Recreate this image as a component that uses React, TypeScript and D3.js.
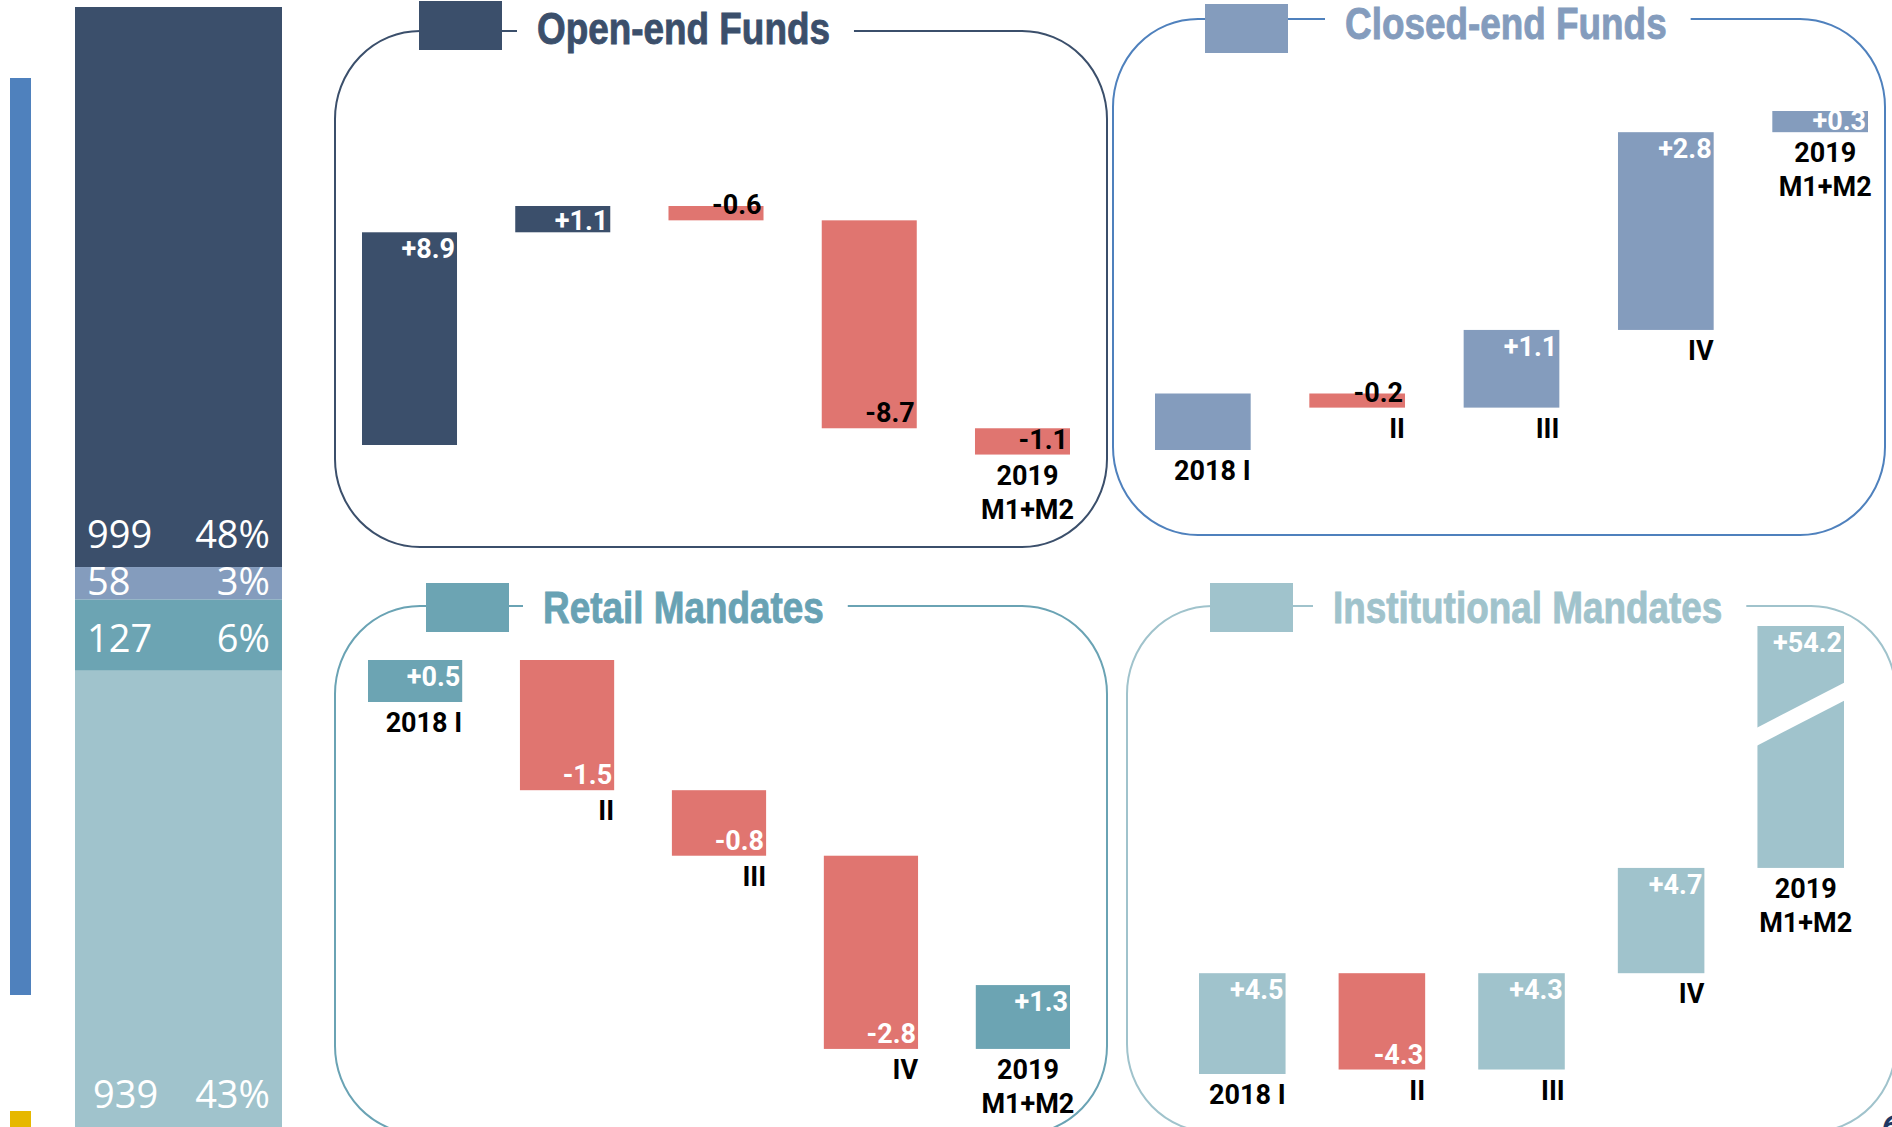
import React, { useEffect, useRef } from 'react';
import * as d3 from 'd3';

const W = 1892;
const H = 1127;

// left stacked total bar (top to bottom)
const stackValues = [999, 58, 127, 939];
const stackShares = ['48%', '3%', '6%', '43%'];

const categories = ['2018 I', 'II', 'III', 'IV', '2019\nM1+M2'];
const openCats = ['', '', '', '', '2019\nM1+M2'];

const openValues = [8.9, 1.1, -0.6, -8.7, -1.1];
const openLabels = ['+8.9', '+1.1', '-0.6', '-8.7', '-1.1'];

const closedValues = [0.8, -0.2, 1.1, 2.8, 0.3];
const closedLabels = ['', '-0.2', '+1.1', '+2.8', '+0.3'];

// retail bars are not drawn to scale in the original, heights read off the bars
const retailValues = [0.5, -1.55, -0.78, -2.3, 0.76];
const retailLabels = ['+0.5', '-1.5', '-0.8', '-2.8', '+1.3'];

const instValues = [4.5, -4.3, 4.3, 4.7, 54.2];
const instLabels = ['+4.5', '-4.3', '+4.3', '+4.7', '+54.2'];

const NAVY = '#3B4F6B';
const SLATE = '#849CBD';
const TEAL = '#6CA4B3';
const LIGHT = '#A0C3CC';
const RED = '#E07570';

// no narrow font installed: squeeze Liberation Sans Bold horizontally
const TITLE_FONT = "'Liberation Sans', Arial, sans-serif";
const TITLE_SQUEEZE = 0.82;
const LABEL_FONT = 'Roboto, sans-serif';

const panels = [
  {
    title: 'Open-end Funds', color: NAVY, titleColor: NAVY, border: NAVY,
    values: openValues, labels: openLabels, cats: openCats, negLabel: '#000',
    box: [335, 31, 1107, 547], square: [419, 1], titleX: 537, titleY: 44,
    xRange: [362, 1070], yDomain: [0, 10], yRange: [445, 206], clamp: false,
  },
  {
    title: 'Closed-end Funds', color: SLATE, titleColor: SLATE, border: '#4F81BD',
    values: closedValues, labels: closedLabels, cats: categories, negLabel: '#000',
    box: [1113, 19, 1885, 535], square: [1205, 4], titleX: 1345, titleY: 39,
    xRange: [1155, 1868], yDomain: [0, 4.8], yRange: [450, 111], clamp: false,
  },
  {
    title: 'Retail Mandates', color: TEAL, titleColor: '#68A2B4', border: '#6AA3B4',
    values: retailValues, labels: retailLabels, cats: categories, negLabel: '#fff',
    box: [335, 606, 1107, 1134], square: [426, 583], titleX: 543, titleY: 623,
    xRange: [368, 1070], yDomain: [0, 0.5], yRange: [702, 660], clamp: false,
  },
  {
    title: 'Institutional Mandates', color: LIGHT, titleColor: LIGHT, border: LIGHT,
    values: instValues, labels: instLabels, cats: categories, negLabel: '#fff',
    box: [1127, 606, 1896, 1132], square: [1210, 583], titleX: 1333, titleY: 623,
    xRange: [1199, 1844], yDomain: [0, 20], yRange: [1074, 626], clamp: true,
  },
];

export default function App() {
  const ref = useRef<SVGSVGElement>(null);

  useEffect(() => {
    if (!ref.current) return;
    const svg = d3.select(ref.current);
    svg.selectAll('*').remove();

    // side markers
    svg.append('rect').attr('x', 10).attr('y', 78).attr('width', 21).attr('height', 917).attr('fill', '#4F81BD');
    svg.append('rect').attr('x', 10).attr('y', 1111).attr('width', 21).attr('height', 30).attr('fill', '#E6B800');

    // stacked total bar
    const total = d3.sum(stackValues);
    const ys = d3.scaleLinear().domain([0, total]).range([7, 7 + total * 0.5606]);
    const stackColors = [NAVY, SLATE, TEAL, LIGHT];
    let acc = 0;
    stackValues.forEach((v, i) => {
      const top = ys(acc);
      const bottom = ys(acc + v);
      acc += v;
      svg.append('rect')
        .attr('x', 75).attr('y', top).attr('width', 207).attr('height', bottom - top)
        .attr('fill', stackColors[i]);
      const visBottom = Math.min(bottom, H);
      const base = Math.max(visBottom - 19, (top + bottom) / 2 + 12);
      const g = svg.append('g')
        .attr('font-family', "'Open Sans', sans-serif").attr('font-size', 38).attr('fill', '#fff');
      g.append('text').attr('x', i === 3 ? 93 : 87).attr('y', base).text(String(v));
      g.append('text').attr('x', 270).attr('y', base).attr('text-anchor', 'end').text(stackShares[i]);
    });

    panels.forEach(p => {
      const [x0, y0, x1, y1] = p.box;
      const g = svg.append('g');

      g.append('rect')
        .attr('x', x0).attr('y', y0).attr('width', x1 - x0).attr('height', y1 - y0)
        .attr('rx', 85).attr('ry', 88)
        .attr('fill', 'none').attr('stroke', p.border).attr('stroke-width', 2);

      const gap = g.append('rect').attr('fill', '#fff');
      const title = g.append('text')
        .attr('transform', `translate(${p.titleX},${p.titleY}) scale(${TITLE_SQUEEZE},1)`)
        .attr('font-family', TITLE_FONT).attr('font-weight', 700).attr('font-size', 45)
        .attr('fill', p.titleColor)
        .attr('stroke', p.titleColor).attr('stroke-width', 0.9)
        .text(p.title);
      const tw = (title.node() as SVGTextElement).getComputedTextLength() * TITLE_SQUEEZE;
      gap.attr('x', p.titleX - 20).attr('y', y0 - 5).attr('width', tw + 44).attr('height', 10);

      g.append('rect')
        .attr('x', p.square[0]).attr('y', p.square[1]).attr('width', 83).attr('height', 49)
        .attr('fill', p.color);

      const x = d3.scaleBand<number>()
        .domain(d3.range(p.values.length))
        .range(p.xRange as [number, number])
        .paddingInner(0.38).paddingOuter(0);
      const y = d3.scaleLinear().domain(p.yDomain).range(p.yRange).clamp(p.clamp);

      let run = 0;
      p.values.forEach((v, i) => {
        const start = run;
        const end = run + v;
        run = end;
        const yTop = y(Math.max(start, end));
        const yBot = y(Math.min(start, end));
        const bx = x(i)!;
        const bw = x.bandwidth();

        g.append('rect')
          .attr('x', bx).attr('y', yTop).attr('width', bw).attr('height', yBot - yTop)
          .attr('fill', v >= 0 ? p.color : RED);

        // axis break for bars running past the scale
        if (Math.max(start, end) > p.yDomain[1]) {
          const mid = yTop + (yBot - yTop) * 0.364;
          const rise = bw * 0.27;
          g.append('polygon')
            .attr('points', [
              [bx - 2, mid + rise - 9], [bx + bw + 2, mid - rise - 9],
              [bx + bw + 2, mid - rise + 9], [bx - 2, mid + rise + 9],
            ].map(d => d.join(',')).join(' '))
            .attr('fill', '#fff');
        }

        if (p.labels[i]) {
          g.append('text')
            .attr('x', bx + bw - 2)
            .attr('y', v >= 0 ? Math.min(yTop + 26, yBot - 2) : yBot - 6)
            .attr('text-anchor', 'end')
            .attr('font-family', LABEL_FONT).attr('font-weight', 700).attr('font-size', 27)
            .attr('fill', v >= 0 ? '#fff' : p.negLabel)
            .text(p.labels[i]);
        }

        const cat = p.cats[i];
        if (cat) {
          const lines = cat.split('\n');
          const t = g.append('text')
            .attr('font-family', LABEL_FONT).attr('font-weight', 700).attr('font-size', 27)
            .attr('fill', '#000')
            .attr('text-anchor', lines.length > 1 ? 'middle' : 'end');
          const tx = lines.length > 1 ? bx + bw / 2 + 5 : bx + bw;
          lines.forEach((ln, k) => {
            t.append('tspan').attr('x', tx).attr('y', yBot + 30 + k * 34).text(ln);
          });
        }
      });
    });

    // page number, cut off at the bottom edge
    svg.append('text')
      .attr('x', 1882).attr('y', 1136)
      .attr('font-family', 'Roboto, sans-serif').attr('font-weight', 700).attr('font-style', 'italic')
      .attr('font-size', 30).attr('fill', '#1F3864')
      .text('6');
  }, []);

  return (
    <svg
      ref={ref}
      width={W}
      height={H}
      style={{ position: 'absolute', left: 0, top: 0, display: 'block', background: '#fff' }}
    />
  );
}
